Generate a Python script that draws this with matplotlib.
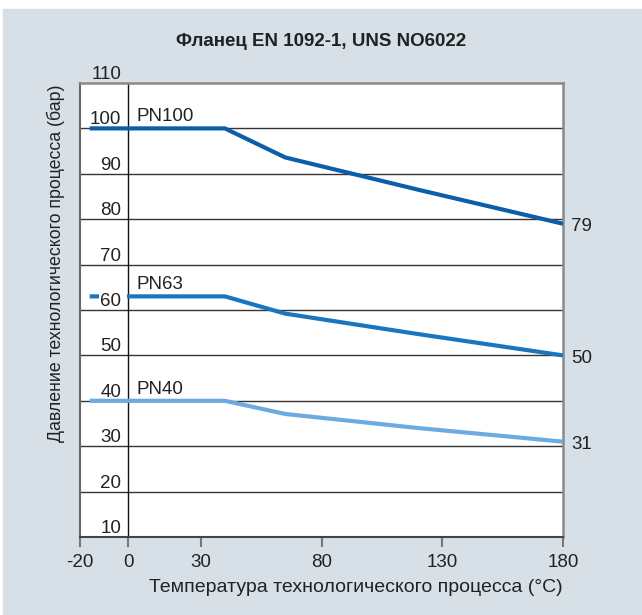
import matplotlib.pyplot as plt
from matplotlib.patches import Rectangle

plt.rcParams['font.family'] = ['Liberation Sans', 'DejaVu Sans']

# Pressure ratings vs. process temperature
temps = [-16, 40, 65, 120, 180]
pn100 = [100, 100, 93.6, 86.5, 79]
pn63 = [63, 63, 59.2, 54.7, 50]
pn40 = [40, 40, 37.1, 34.0, 31]

series = [('PN100', pn100, '#0b5fa8'),
          ('PN63', pn63, '#1976be'),
          ('PN40', pn40, '#6daae0')]

x_ticks = [-20, 0, 30, 80, 130, 180]
y_levels = [10, 20, 30, 40, 50, 60, 70, 80, 90, 100, 110]

bg = '#d6e0e6'
text_col = '#222222'

fig = plt.figure(figsize=(6.42, 6.15), dpi=100)
fig.patch.set_facecolor('white')
fig.add_artist(Rectangle((3 / 642, 0), 1, (615 - 9) / 615,
                         transform=fig.transFigure, color=bg, zorder=-10))

ax = fig.add_axes([80 / 642, 1 - 537 / 615, 483 / 642, 454 / 615])
ax.set_facecolor('white')
ax.set_xlim(-20, 180)
ax.set_ylim(10, 110)

# horizontal grid and the 0 °C line
for v in y_levels[1:-1]:
    ax.axhline(v, color='#333333', lw=1, zorder=1)
ax.axvline(0, color='#111111', lw=1, zorder=1)

for name, vals, col in series:
    ax.plot(temps, vals, color=col, lw=3, solid_capstyle='butt', zorder=3)
    ax.text(3.3, vals[0] + 1.6, name, ha='left', va='baseline',
            fontsize=13.5, color=text_col, zorder=4)
    ax.text(183.5, vals[-1] - 0.6, str(vals[-1]), ha='left', va='center',
            fontsize=13.5, color=text_col, clip_on=False)

# pressure labels sit just above their grid lines, on a white plate
for v in y_levels:
    if v < 110:
        ax.add_patch(Rectangle((-12, v + 0.55), 11.6, 3.5, fc='white',
                               ec='none', zorder=4))
    ax.text(-2.9, v + 0.9, str(v), ha='right', va='baseline', fontsize=13.5,
            color=text_col, zorder=5, clip_on=False)

ax.set_yticks([])
ax.set_xticks(x_ticks)
ax.set_xticklabels([str(t) for t in x_ticks], fontsize=13.5, color=text_col)
ax.tick_params(axis='x', direction='out', length=7, width=1.5,
               color='#777777', pad=5)

for side in ['top', 'right']:
    ax.spines[side].set_color('#8a8a8a')
    ax.spines[side].set_linewidth(1.8)
ax.spines['left'].set_color('#666666')
ax.spines['left'].set_linewidth(1.5)
ax.spines['bottom'].set_color('#444444')
ax.spines['bottom'].set_linewidth(1.5)

fig.text((80 + 563) / 2 / 642, 1 - 41 / 615, 'Фланец EN 1092-1, UNS NO6022',
         ha='center', va='center', fontsize=13.5, fontweight='bold',
         color=text_col)
fig.text(563 / 642, 1 - 588 / 615, 'Температура технологического процесса (°C)',
         ha='right', va='center', fontsize=14, color=text_col)
fig.text(56 / 642, 1 - 85 / 615, 'Давление технологического процесса (бар)',
         ha='center', va='top', rotation=90, fontsize=12.8, color=text_col)

fig.savefig('out.png', dpi=100)
